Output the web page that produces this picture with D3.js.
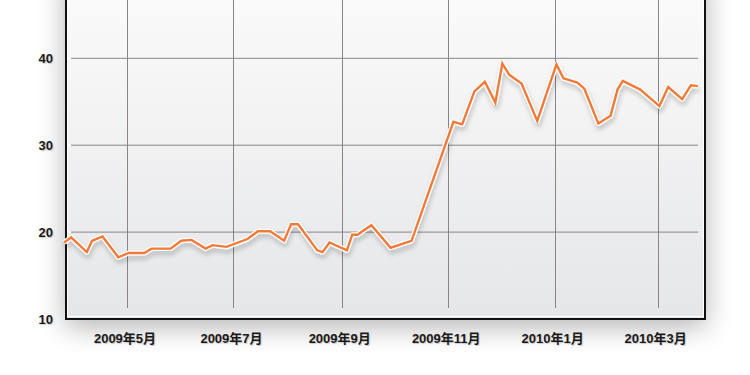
<!DOCTYPE html>
<html>
<head>
<meta charset="utf-8">
<script src="https://cdn.jsdelivr.net/npm/d3@7"></script>
<style>
  html, body { margin: 0; padding: 0; background: #fff; }
  svg { display: block; }
  .tick-label {
    font-family: "Liberation Sans", "Noto Sans CJK JP", sans-serif;
    font-size: 13px;
    font-weight: bold;
    fill: #1a1a1a;
    text-shadow: 1px 1px 1px rgba(0,0,0,0.2);
  }
</style>
</head>
<body>
<svg width="750" height="375"></svg>
<script>
// weekly-ish readings, Mar 2009 .. Mar 2010
const dates = [
  '2009-03-26', '2009-03-30', '2009-04-08', '2009-04-11', '2009-04-17', '2009-04-26',
  '2009-05-02', '2009-05-11', '2009-05-15', '2009-05-26', '2009-06-01', '2009-06-07',
  '2009-06-15', '2009-06-19', '2009-06-27', '2009-07-09', '2009-07-15', '2009-07-22',
  '2009-07-30', '2009-08-03', '2009-08-07', '2009-08-18', '2009-08-21', '2009-08-25',
  '2009-09-04', '2009-09-07', '2009-09-10', '2009-09-18', '2009-09-29', '2009-10-11',
  '2009-11-04', '2009-11-09', '2009-11-16', '2009-11-22', '2009-11-28', '2009-12-02',
  '2009-12-06', '2009-12-13', '2009-12-22', '2010-01-02', '2010-01-06', '2010-01-14',
  '2010-01-18', '2010-01-26', '2010-02-02', '2010-02-06', '2010-02-09', '2010-02-19',
  '2010-03-02', '2010-03-07', '2010-03-15', '2010-03-20', '2010-03-24'
];
const values = [
  18.8, 19.4, 17.7, 19.0, 19.5, 17.1,
  17.6, 17.6, 18.1, 18.1, 19.0, 19.1,
  18.1, 18.5, 18.3, 19.2, 20.1, 20.1,
  19.0, 20.9, 20.9, 17.9, 17.7, 18.8,
  17.9, 19.7, 19.7, 20.8, 18.2, 19.0,
  32.7, 32.4, 36.2, 37.3, 34.9, 39.4,
  38.1, 37.1, 32.8, 39.3, 37.7, 37.2,
  36.5, 32.5, 33.4, 36.4, 37.4, 36.4,
  34.5, 36.7, 35.3, 36.9, 36.8
];
const yTicks = [10, 20, 30, 40];

const parse = d3.timeParse('%Y-%m-%d');
const data = dates.map((d, i) => ({ date: parse(d), value: values[i] }));

const plotLeft = 65, plotRight = 706, plotBottom = 319, plotTop = -30;

const x = d3.scaleTime()
  .domain([parse('2009-05-01'), parse('2010-03-01')])
  .range([127, 657.7]);
const y = d3.scaleLinear()
  .domain([10, 40])
  .range([plotBottom, 58.3]);

const svg = d3.select('svg');
const defs = svg.append('defs');

const grad = defs.append('linearGradient')
  .attr('id', 'bg').attr('x1', 0).attr('y1', 0).attr('x2', 0).attr('y2', 1);
grad.append('stop').attr('offset', '0%').attr('stop-color', '#fcfcfc');
grad.append('stop').attr('offset', '100%').attr('stop-color', '#e5e6e8');

const shadow = defs.append('filter').attr('id', 'frameShadow')
  .attr('x', '-20%').attr('y', '-20%').attr('width', '140%').attr('height', '140%');
shadow.append('feGaussianBlur').attr('in', 'SourceAlpha').attr('stdDeviation', 14);
shadow.append('feOffset').attr('dx', 0).attr('dy', 8).attr('result', 'b');
shadow.append('feComponentTransfer').append('feFuncA').attr('type', 'linear').attr('slope', 0.3);
const sm = shadow.append('feMerge');
sm.append('feMergeNode');
sm.append('feMergeNode').attr('in', 'SourceGraphic');

const lineShadow = defs.append('filter').attr('id', 'lineShadow')
  .attr('x', '-10%').attr('y', '-10%').attr('width', '120%').attr('height', '130%');
lineShadow.append('feGaussianBlur').attr('in', 'SourceAlpha').attr('stdDeviation', 2.5);
lineShadow.append('feOffset').attr('dx', 1).attr('dy', 4);
lineShadow.append('feComponentTransfer').append('feFuncA').attr('type', 'linear').attr('slope', 0.2);
const lm = lineShadow.append('feMerge');
lm.append('feMergeNode');
lm.append('feMergeNode').attr('in', 'SourceGraphic');

// frame with shadow
svg.append('rect')
  .attr('x', plotLeft).attr('y', plotTop)
  .attr('width', plotRight - plotLeft).attr('height', plotBottom - plotTop)
  .attr('fill', 'url(#bg)')
  .attr('filter', 'url(#frameShadow)');

// grid
svg.append('g')
  .selectAll('line')
  .data(yTicks.slice(1))
  .enter().append('line')
  .attr('x1', plotLeft).attr('x2', 698)
  .attr('y1', d => y(d)).attr('y2', d => y(d))
  .attr('stroke', '#8a8484').attr('stroke-width', 1);

const xTicks = x.ticks(d3.timeMonth.every(2));
svg.append('g')
  .selectAll('line')
  .data(xTicks)
  .enter().append('line')
  .attr('x1', d => Math.round(x(d)) + 0.5).attr('x2', d => Math.round(x(d)) + 0.5)
  .attr('y1', plotTop).attr('y2', plotBottom - 11)
  .attr('stroke', '#8a8484').attr('stroke-width', 1);

// small white ticks on the left axis
svg.append('g')
  .selectAll('line')
  .data(yTicks.slice(1))
  .enter().append('line')
  .attr('x1', plotLeft + 1).attr('x2', plotLeft + 6)
  .attr('y1', d => y(d)).attr('y2', d => y(d))
  .attr('stroke', '#fff').attr('stroke-width', 2);

// border: white inner, black outer
svg.append('rect')
  .attr('x', plotLeft + 2.5).attr('y', plotTop)
  .attr('width', plotRight - plotLeft - 5).attr('height', plotBottom - plotTop - 2.5)
  .attr('fill', 'none').attr('stroke', '#fff').attr('stroke-width', 1);
svg.append('rect')
  .attr('x', plotLeft + 1).attr('y', plotTop)
  .attr('width', plotRight - plotLeft - 2).attr('height', plotBottom - plotTop)
  .attr('fill', 'none').attr('stroke', '#111').attr('stroke-width', 2);

// series
const line = d3.line()
  .x(d => x(d.date))
  .y(d => y(d.value));

const g = svg.append('g').attr('filter', 'url(#lineShadow)');
g.append('path')
  .datum(data)
  .attr('d', line)
  .attr('fill', 'none')
  .attr('stroke', '#fff')
  .attr('stroke-width', 5)
  .attr('stroke-linejoin', 'round');
g.append('path')
  .datum(data)
  .attr('d', line)
  .attr('fill', 'none')
  .attr('stroke', '#f27a38')
  .attr('stroke-width', 2.4)
  .attr('stroke-linejoin', 'miter');

// labels
svg.append('g')
  .selectAll('text')
  .data(yTicks)
  .enter().append('text')
  .attr('class', 'tick-label')
  .attr('x', 53)
  .attr('y', d => y(d))
  .attr('dy', '0.35em')
  .attr('text-anchor', 'end')
  .text(d => d);

const fmt = d3.timeFormat('%Y年%-m月');
svg.append('g')
  .selectAll('text')
  .data(xTicks)
  .enter().append('text')
  .attr('class', 'tick-label')
  .attr('x', d => x(d) - 2)
  .attr('y', 338)
  .attr('dy', '0.35em')
  .attr('text-anchor', 'middle')
  .text(fmt);
</script>
</body>
</html>
